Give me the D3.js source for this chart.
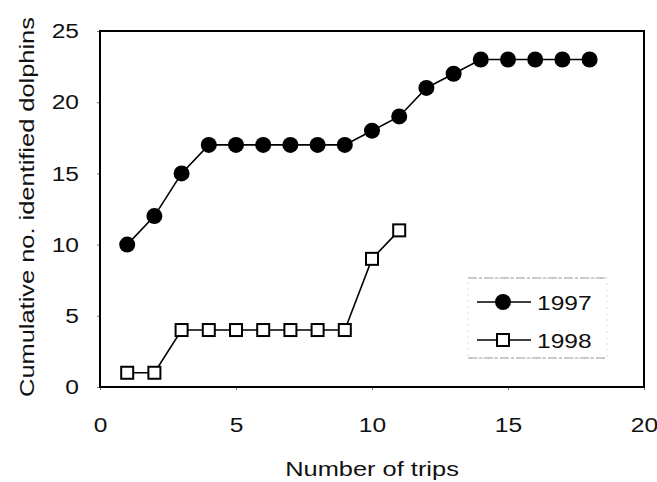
<!DOCTYPE html>
<html>
<head>
<meta charset="utf-8">
<script src="https://cdn.jsdelivr.net/npm/d3@7"></script>
<style>
  body { margin: 0; background: #fff; }
  svg text { font-family: "Liberation Sans", Arial, sans-serif; fill: #111; }
</style>
</head>
<body>
<svg id="chart" width="657" height="482"></svg>
<script>
// data
var trips1997 = [1, 2, 3, 4, 5, 6, 7, 8, 9, 10, 11, 12, 13, 14, 15, 16, 17, 18];
var dolphins1997 = [10, 12, 15, 17, 17, 17, 17, 17, 17, 18, 19, 21, 22, 23, 23, 23, 23, 23];
var trips1998 = [1, 2, 3, 4, 5, 6, 7, 8, 9, 10, 11];
var dolphins1998 = [1, 1, 4, 4, 4, 4, 4, 4, 4, 9, 11];
var xTicks = [0, 5, 10, 15, 20];
var yTicks = [0, 5, 10, 15, 20, 25];
var seriesNames = ["1997", "1998"];

// the original type is a bit wide, so stretch text horizontally
var stretch = 1.17;
var titleStretch = 1.24;

var svg = d3.select("#chart"),
    margin = { top: 31, right: 13, bottom: 95, left: 100 },
    width = +svg.attr("width") - margin.left - margin.right,
    height = +svg.attr("height") - margin.top - margin.bottom,
    g = svg.append("g").attr("transform", "translate(" + margin.left + "," + margin.top + ")");

var x = d3.scaleLinear().domain([0, 20]).range([0, width]);
var y = d3.scaleLinear().domain([0, 25]).range([height, 0]);

function toPoints(xs, ys) {
    return xs.map(function(d, i) { return { k: d, v: ys[i] }; });
}
var data1997 = toPoints(trips1997, dolphins1997);
var data1998 = toPoints(trips1998, dolphins1998);

var line = d3.line()
    .x(function(d) { return x(d.k); })
    .y(function(d) { return y(d.v); });

// axes
var xAxis = g.append("g")
    .attr("transform", "translate(0," + height + ")")
    .call(d3.axisBottom(x).tickValues(xTicks).tickSize(3).tickPadding(27));
var yAxis = g.append("g")
    .call(d3.axisLeft(y).tickValues(yTicks).tickSize(3).tickPadding(18));

[xAxis, yAxis].forEach(function(a) {
    a.select(".domain").remove();
    a.selectAll("line").attr("stroke", "#777").attr("stroke-width", 1);
    a.selectAll("text")
        .style("font-size", "21px")
        .attr("fill", "#111")
        .attr("x", function() { return (+d3.select(this).attr("x") || 0) / stretch; })
        .attr("transform", "scale(" + stretch + ",1)");
});

// frame
g.append("rect")
    .attr("width", width)
    .attr("height", height)
    .attr("fill", "none")
    .attr("stroke", "#000")
    .attr("stroke-width", 2);

// series
g.append("path").datum(data1997)
    .attr("fill", "none").attr("stroke", "#000").attr("stroke-width", 1.6)
    .attr("d", line);
g.append("path").datum(data1998)
    .attr("fill", "none").attr("stroke", "#000").attr("stroke-width", 1.6)
    .attr("d", line);

g.selectAll(".dot97")
    .data(data1997)
  .enter().append("circle")
    .attr("r", 8)
    .attr("cx", function(d) { return x(d.k); })
    .attr("cy", function(d) { return y(d.v); })
    .attr("fill", "#000");

var sq = 12;
g.selectAll(".sq98")
    .data(data1998)
  .enter().append("rect")
    .attr("x", function(d) { return x(d.k) - sq / 2; })
    .attr("y", function(d) { return y(d.v) - sq / 2; })
    .attr("width", sq)
    .attr("height", sq)
    .attr("fill", "#fff")
    .attr("stroke", "#000")
    .attr("stroke-width", 2);

// legend
var legend = svg.append("g").attr("transform", "translate(468,278)");
legend.append("rect")
    .attr("width", 139).attr("height", 80)
    .attr("fill", "none").attr("stroke", "#ddd")
    .attr("stroke-width", 1).attr("stroke-dasharray", "2,4");
legend.selectAll(".edge")
    .data([0, 80])
  .enter().append("line")
    .attr("x1", 0).attr("x2", 139)
    .attr("y1", function(d) { return d; })
    .attr("y2", function(d) { return d; })
    .attr("stroke", "#999").attr("stroke-width", 1)
    .attr("stroke-dasharray", "9,2,3,2");

legend.append("line").attr("x1", 9).attr("x2", 63).attr("y1", 24).attr("y2", 24)
    .attr("stroke", "#000").attr("stroke-width", 1.6);
legend.append("circle").attr("cx", 35).attr("cy", 24).attr("r", 8).attr("fill", "#000");
legend.append("line").attr("x1", 9).attr("x2", 63).attr("y1", 62).attr("y2", 62)
    .attr("stroke", "#000").attr("stroke-width", 1.6);
legend.append("rect").attr("x", 35 - sq / 2).attr("y", 62 - sq / 2)
    .attr("width", sq).attr("height", sq)
    .attr("fill", "#fff").attr("stroke", "#000").attr("stroke-width", 2);

legend.selectAll(".lt")
    .data(seriesNames)
  .enter().append("text")
    .attr("x", 69 / stretch)
    .attr("y", function(d, i) { return 24 + i * 38; })
    .attr("dy", "0.36em")
    .attr("transform", "scale(" + stretch + ",1)")
    .style("font-size", "21px")
    .text(function(d) { return d; });

// axis titles
svg.append("text")
    .attr("transform", "translate(" + (margin.left + width / 2) + ",476) scale(" + titleStretch + ",1)")
    .attr("text-anchor", "middle")
    .style("font-size", "20.5px")
    .text("Number of trips");

svg.append("text")
    .attr("transform", "translate(34,207) rotate(-90) scale(" + titleStretch + ",1)")
    .attr("text-anchor", "middle")
    .style("font-size", "20.5px")
    .text("Cumulative no. identified dolphins");
</script>
</body>
</html>
